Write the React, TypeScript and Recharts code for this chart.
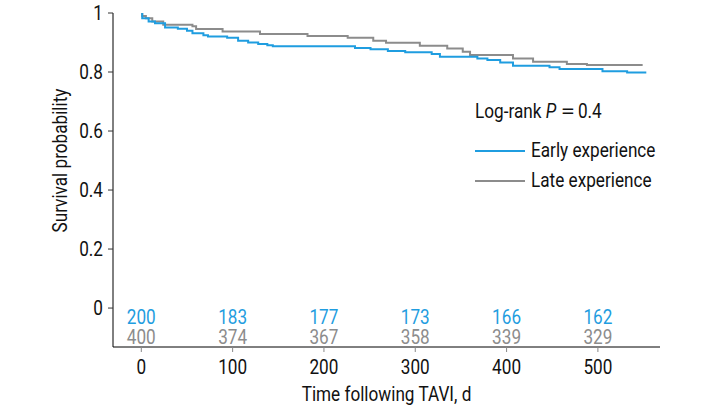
import React from 'react';
import { ComposedChart, Line, Scatter, XAxis, YAxis } from 'recharts';

const FONT = "Roboto, 'DejaVu Sans Condensed', sans-serif";
const FS = 19.5;
const SX = 0.88;
const BLUE = '#1f9de0';
const GRAY = '#8c8c8c';
const INK = '#111';

// Kaplan-Meier steps (day, survival)
const earlyDays = [0, 1, 8, 15, 26, 40, 50, 56, 68, 73, 94, 106, 117, 128, 138, 144, 234, 251, 270, 289, 318, 327, 368, 379, 393, 407, 447, 458, 505, 532, 553];
const earlySurv = [1.0, 0.982, 0.971, 0.965, 0.951, 0.947, 0.94, 0.931, 0.925, 0.92, 0.916, 0.906, 0.9, 0.895, 0.891, 0.887, 0.881, 0.877, 0.871, 0.867, 0.861, 0.852, 0.846, 0.841, 0.832, 0.821, 0.816, 0.81, 0.803, 0.798, 0.798];
const lateDays = [0, 1, 5, 12, 24, 56, 60, 89, 130, 182, 226, 254, 268, 305, 335, 352, 360, 407, 429, 466, 488, 549];
const lateSurv = [1.0, 0.99, 0.982, 0.971, 0.96, 0.955, 0.946, 0.937, 0.929, 0.922, 0.916, 0.906, 0.899, 0.889, 0.88, 0.869, 0.858, 0.846, 0.835, 0.827, 0.824, 0.824];

// Numbers at risk
const riskDays = [0, 100, 200, 300, 400, 500];
const earlyAtRisk = [200, 183, 177, 173, 166, 162];
const lateAtRisk = [400, 374, 367, 358, 339, 329];

const xTicks = [0, 100, 200, 300, 400, 500];
const yTicks = [0, 0.2, 0.4, 0.6, 0.8, 1];

const seriesNames = ['Early experience', 'Late experience'];

const earlyData = earlyDays.map((x, i) => ({ x, y: earlySurv[i] }));
const lateData = lateDays.map((x, i) => ({ x, y: lateSurv[i] }));
const earlyRiskData = riskDays.map((x, i) => ({ x, y: -0.054, n: earlyAtRisk[i] }));
const lateRiskData = riskDays.map((x, i) => ({ x, y: -0.122, n: lateAtRisk[i] }));

const NarrowText = ({ x, y, anchor, color, dy, children }: any) => (
  <g transform={`translate(${x},${y})`}>
    <text x={0} y={0} dy={dy} transform={`scale(${SX},1)`} textAnchor={anchor} fill={color} fontSize={FS} fontFamily={FONT}>
      {children}
    </text>
  </g>
);

const riskShape = (color: string) => (props: any) => (
  <NarrowText x={props.cx} y={props.cy} anchor="middle" color={color} dy={0}>
    {props.payload.n}
  </NarrowText>
);

const XTick = (props: any) => (
  <NarrowText x={props.x} y={props.y} anchor="middle" color={INK} dy="0.71em">
    {props.payload.value}
  </NarrowText>
);

const YTick = (props: any) => (
  <NarrowText x={props.x} y={props.y} anchor="end" color={INK} dy="0.355em">
    {String(Math.round(props.payload.value * 10) / 10)}
  </NarrowText>
);

const YTitle = (props: any) => {
  const vb = props.viewBox;
  const cx = 60;
  const cy = vb.y + vb.height * (0.5 / 1.132);
  return (
    <g transform={`translate(${cx},${cy}) rotate(-90) scale(${SX},1)`}>
      <text x={0} y={0} textAnchor="middle" dominantBaseline="central" fontSize={FS} fontFamily={FONT} fill={INK}>
        Survival probability
      </text>
    </g>
  );
};

const XTitle = (props: any) => {
  const vb = props.viewBox;
  return (
    <NarrowText x={vb.x + vb.width / 2} y={vb.y + 54} anchor="middle" color={INK} dy={0}>
      Time following TAVI, d
    </NarrowText>
  );
};

const narrowStyle: React.CSSProperties = {
  display: 'inline-block',
  transform: `scaleX(${SX})`,
  transformOrigin: 'left center',
  whiteSpace: 'nowrap',
};

const LegendBox = () => (
  <div style={{ position: 'absolute', left: 475, top: 98, width: 220, height: 100, fontFamily: FONT, fontSize: FS, color: INK }}>
    <div style={{ position: 'absolute', left: 0, top: 0, height: 28, lineHeight: '28px' }}>
      <span style={narrowStyle}>
        Log-rank <i>P</i>
        <span style={{ display: 'inline-block', margin: '0 6px 0 8px', transform: 'scaleX(1.5)' }}>=</span>
        0.4
      </span>
    </div>
    {[BLUE, GRAY].map((c, i) => (
      <div key={i} style={{ position: 'absolute', left: 0, top: 39 + i * 30, height: 28, lineHeight: '28px', display: 'flex', alignItems: 'center', whiteSpace: 'nowrap' }}>
        <span style={{ display: 'inline-block', width: 50, height: 2, background: c, marginRight: 6 }} />
        <span style={narrowStyle}>{seriesNames[i]}</span>
      </div>
    ))}
  </div>
);

export default function App() {
  return (
    <div style={{ position: 'absolute', left: 0, top: 0, width: 703, height: 408, background: '#fff' }}>
      <ComposedChart width={703} height={408} margin={{ top: 13, right: 43, bottom: 0, left: 0 }}>
        <XAxis
          type="number"
          dataKey="x"
          domain={[-31, 568]}
          ticks={xTicks}
          allowDataOverflow
          height={61}
          tickSize={5}
          tickMargin={8}
          stroke="#000"
          tickLine={{ stroke: '#888' }}
          tick={<XTick />}
          label={{ content: XTitle }}
        />
        <YAxis
          type="number"
          dataKey="y"
          domain={[-0.132, 1]}
          ticks={yTicks}
          allowDataOverflow
          width={113}
          tickSize={5}
          tickMargin={5}
          stroke="#000"
          tickLine={{ stroke: '#333' }}
          tick={<YTick />}
          label={{ content: YTitle }}
        />
        <Line data={lateData} dataKey="y" type="stepAfter" stroke={GRAY} strokeWidth={2} dot={false} isAnimationActive={false} name={seriesNames[1]} />
        <Line data={earlyData} dataKey="y" type="stepAfter" stroke={BLUE} strokeWidth={2} dot={false} isAnimationActive={false} name={seriesNames[0]} />
        <Scatter data={earlyRiskData} dataKey="y" shape={riskShape(BLUE)} isAnimationActive={false} legendType="none" />
        <Scatter data={lateRiskData} dataKey="y" shape={riskShape(GRAY)} isAnimationActive={false} legendType="none" />
      </ComposedChart>
      <LegendBox />
    </div>
  );
}
